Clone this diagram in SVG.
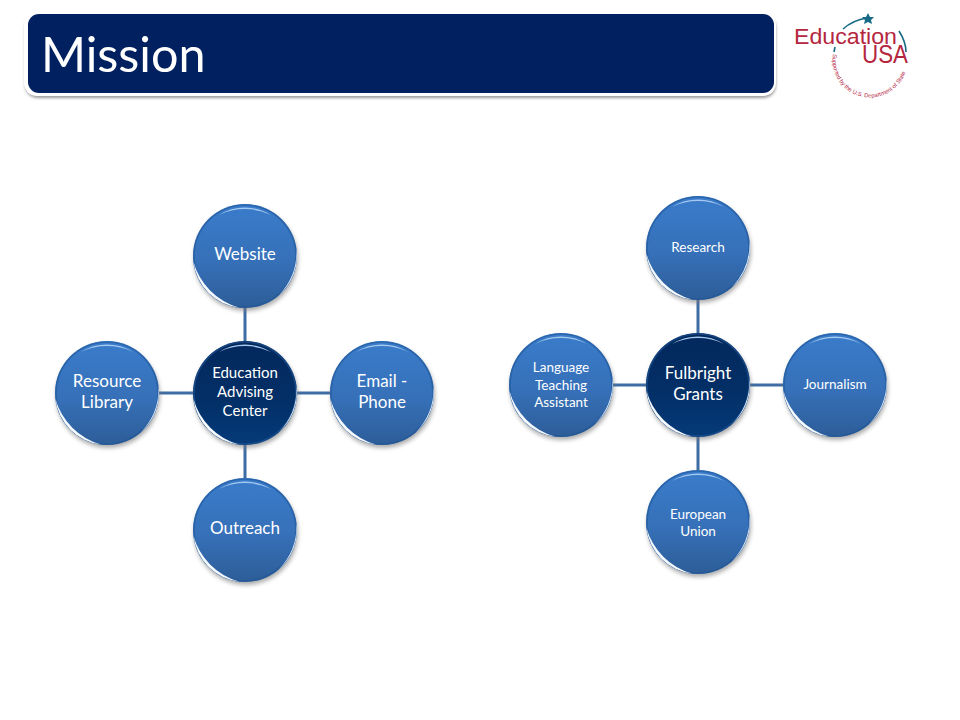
<svg xmlns="http://www.w3.org/2000/svg" width="960" height="720" viewBox="0 0 960 720">
<style>
.t{font-family:Lato,"Open Sans","Liberation Sans",sans-serif;fill:#fff;text-anchor:middle}
.lg{font-size:17px}.md{font-size:15px}.sm{font-size:13.5px}
.conn{stroke:#3e6ca4;stroke-width:3;fill:none}
.logo{font-family:"Liberation Sans",Arial,sans-serif;fill:#b5263f}
.arc{fill:none;stroke:#176a85;stroke-width:1.6}
</style>
<defs>
<linearGradient id="blue" x1="0" y1="0" x2="0" y2="1"><stop offset="0" stop-color="#3a7ccb"/><stop offset=".55" stop-color="#3670b8"/><stop offset="1" stop-color="#2d5d98"/></linearGradient>
<linearGradient id="dark" x1="0" y1="0" x2="0" y2="1"><stop offset="0" stop-color="#03285c"/><stop offset=".6" stop-color="#033068"/><stop offset="1" stop-color="#053a78"/></linearGradient>
<filter id="sh" filterUnits="userSpaceOnUse" x="-70" y="-70" width="140" height="140"><feGaussianBlur stdDeviation="2"/></filter>
<filter id="b1" filterUnits="userSpaceOnUse" x="-70" y="-70" width="140" height="140"><feGaussianBlur stdDeviation=".6"/></filter>
<filter id="b2" x="-5%" y="-20%" width="110%" height="140%"><feGaussianBlur stdDeviation="1.6"/></filter>
<g id="under"><circle cx="1" cy="3" r="52" fill="#777" opacity=".6" filter="url(#sh)"/></g>
<g id="gloss" filter="url(#b1)">
<circle r="51" fill="none" stroke="#1f5596" stroke-width="1.6" opacity=".6"/>
<path d="M-51.500 6A52 52 0 0 0 -6 51.500A66 66 0 0 1 -51.500 6Z" fill="#f5faff"/>
<path d="M51.500 -8A52 52 0 0 1 34 39A64 64 0 0 0 51.500 -8Z" fill="#d5e7fa"/>
<path d="M-26 -41A49 49 0 0 1 26 -41A60 60 0 0 0 -26 -41Z" fill="#a5c8ee"/>
</g>
</defs>
<rect width="960" height="720" fill="#fff"/>
<g id="title">
<rect x="25" y="15" width="751" height="83" rx="13" fill="#9a9a9a" filter="url(#b2)"/>
<rect x="24" y="12" width="752" height="84" rx="13" fill="#fff"/>
<rect x="28" y="14" width="746" height="79" rx="11" fill="#002060"/>
<text x="41" y="72" font-family="Lato,Open Sans,sans-serif" font-size="48.500" fill="#fff">Mission</text>
</g>
<g id="logo">
<text class="logo" x="794" y="44" font-size="22" textLength="103" lengthAdjust="spacingAndGlyphs">Education</text>
<text class="logo" x="862" y="63" font-size="25" textLength="46" lengthAdjust="spacingAndGlyphs">USA</text>
<path class="arc" d="M843 29Q853 20 867 18"/>
<polygon points="868,13 870,17 874,17 871,20 872,24 868,22 864,24 865,20 862,17 866,17" fill="#176a85"/>
<path class="arc" d="M899 31Q906 42 906 52"/>
<path class="arc" d="M835 47L834 52"/>
<path id="arc" d="M833 54A37 37 0 0 0 907 66" fill="none"/>
<text font-family="Liberation Sans,Arial,sans-serif" font-size="5.800" fill="#b5263f"><textPath href="#arc">Supported by the U.S. Department of State</textPath></text>
</g>
<g id="connectors">
<path class="conn" d="M245 300V350M245 436V486M150 393H202M288 393H340"/>
<path class="conn" d="M698 292V342M698 428V478M603 385H655M741 385H793"/>
</g>
<g id="node-website" transform="translate(245 256)"><use href="#under"/><circle r="52" fill="url(#blue)"/><use href="#gloss"/><text class="t lg" y="3.500">Website</text></g>
<g id="node-center-1" transform="translate(245 393)"><use href="#under"/><circle r="52" fill="url(#dark)"/><use href="#gloss"/><text class="t md" y="-15.500">Education</text><text class="t md" y="3.500">Advising</text><text class="t md" y="22.500">Center</text></g>
<g id="node-email" transform="translate(382 393)"><use href="#under"/><circle r="52" fill="url(#blue)"/><use href="#gloss"/><text class="t lg" y="-6.500">Email -</text><text class="t lg" y="14.500">Phone</text></g>
<g id="node-resource" transform="translate(107 393)"><use href="#under"/><circle r="52" fill="url(#blue)"/><use href="#gloss"/><text class="t lg" y="-6.500">Resource</text><text class="t lg" y="14.500">Library</text></g>
<g id="node-outreach" transform="translate(245 530)"><use href="#under"/><circle r="52" fill="url(#blue)"/><use href="#gloss"/><text class="t lg" y="3.500">Outreach</text></g>
<g id="node-research" transform="translate(698 248)"><use href="#under"/><circle r="52" fill="url(#blue)"/><use href="#gloss"/><text class="t sm" y="3.500">Research</text></g>
<g id="node-center-2" transform="translate(698 385)"><use href="#under"/><circle r="52" fill="url(#dark)"/><use href="#gloss"/><text class="t lg" y="-6.500">Fulbright</text><text class="t lg" y="14.500">Grants</text></g>
<g id="node-journalism" transform="translate(835 385)"><use href="#under"/><circle r="52" fill="url(#blue)"/><use href="#gloss"/><text class="t sm" y="3.500">Journalism</text></g>
<g id="node-language" transform="translate(561 385)"><use href="#under"/><circle r="52" fill="url(#blue)"/><use href="#gloss"/><text class="t sm" y="-13.500">Language</text><text class="t sm" y="4.500">Teaching</text><text class="t sm" y="21.500">Assistant</text></g>
<g id="node-european" transform="translate(698 522)"><use href="#under"/><circle r="52" fill="url(#blue)"/><use href="#gloss"/><text class="t sm" y="-3.500">European</text><text class="t sm" y="13.500">Union</text></g>
</svg>
